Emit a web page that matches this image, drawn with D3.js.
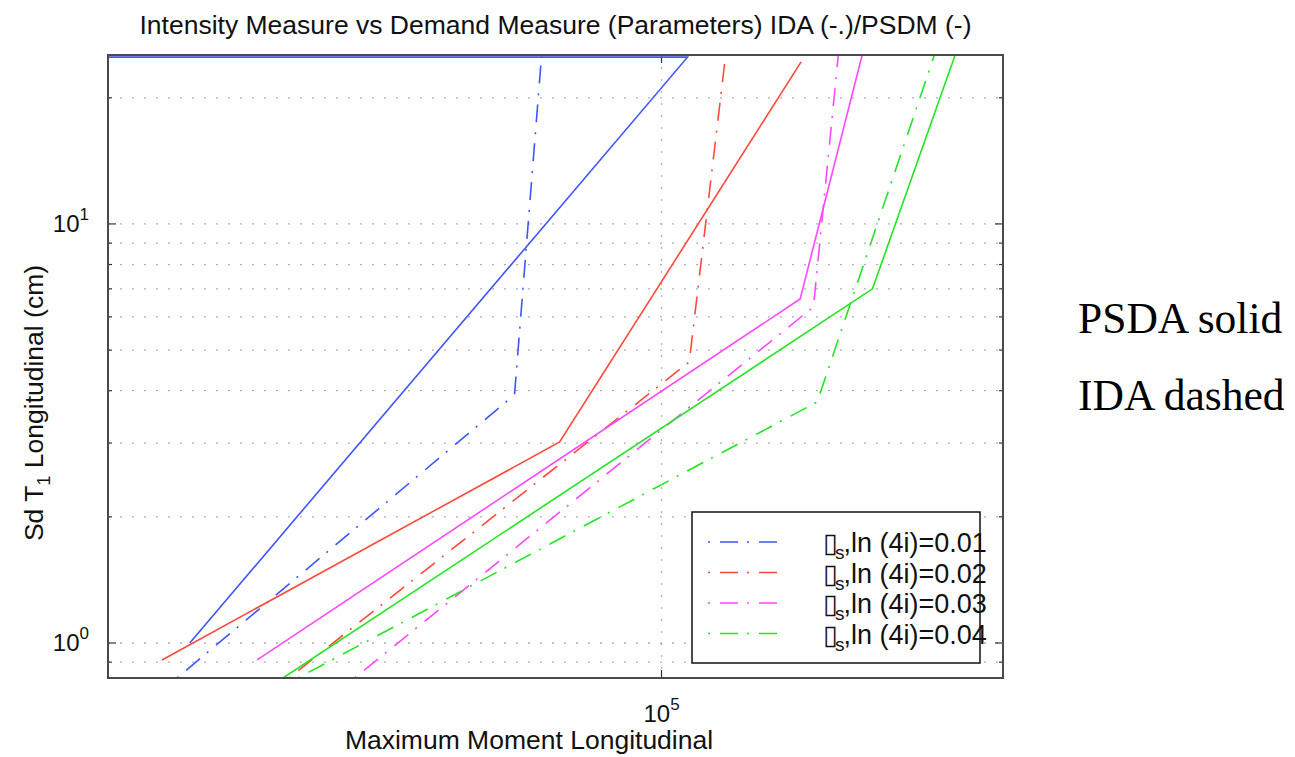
<!DOCTYPE html>
<html><head><meta charset="utf-8">
<script src="https://cdn.jsdelivr.net/npm/d3@7"></script>
<style>
body{margin:0;background:#fff;}
svg{display:block;font-family:"Liberation Sans",Arial,sans-serif;}
</style></head>
<body>
<svg id="chart" width="1295" height="757"></svg>
<script>
// ---- data ----
const seriesLabels = ["0.01", "0.02", "0.03", "0.04"];
const seriesColors = ["#3f55ff", "#ff4a3a", "#ff48ff", "#22e622"];
// PSDA (solid) : Maximum moment / Sd
const psdaMoment = [[45800, 104400, 38000], [43740, 84480, 126000], [51200, 125800, 139400], [53440, 141800, 162600]];
const psdaSd     = [[1.0, 25.0, 25.0],       [0.911, 3.017, 24.36],  [0.911, 6.62, 25.3],     [0.825, 7.0, 25.3]];
// IDA (dash-dot)
const idaMoment  = [[44840, 78400, 82000],   [53960, 104700, 111200], [60170, 128600, 134000], [54770, 129400, 157100]];
const idaSd      = [[0.825, 3.91, 25.3],     [0.825, 4.685, 25.3],    [0.825, 6.34, 25.3],     [0.825, 3.76, 25.3]];
const yGridValues = [0.9, 1, 2, 3, 4, 5, 6, 7, 8, 9, 10, 20];
const yMajorTicks = [1, 10];
const yTickExp = ["0", "1"];
const xMajorTicks = [1e5];
const xTickExp = ["5"];

// ---- layout ----
const svg = d3.select("#chart");
const L = 108, R = 1003, T = 55, B = 678;
const x = d3.scaleLog().domain([4e4, 1.76e5]).range([L, R]);
const y = d3.scaleLog().domain([0.825, 25.3]).range([B, T]);

svg.append("defs").append("clipPath").attr("id", "clip")
  .append("rect").attr("x", L).attr("y", T).attr("width", R - L).attr("height", B - T);

// grid
const grid = svg.append("g").attr("stroke", "#b0b0b0").attr("stroke-width", 1.3).attr("stroke-dasharray", "2,10");
grid.selectAll("line.gy").data(yGridValues).join("line")
  .attr("x1", L).attr("x2", R).attr("y1", d => y(d)).attr("y2", d => y(d));
grid.selectAll("line.gx").data(xMajorTicks).join("line")
  .attr("x1", d => x(d)).attr("x2", d => x(d)).attr("y1", T).attr("y2", B);

// ticks
const ticks = svg.append("g").attr("stroke", "#333").attr("stroke-width", 1.2);
yGridValues.forEach(v => {
  const len = yMajorTicks.includes(v) ? 8 : 4;
  ticks.append("line").attr("x1", L).attr("x2", L + len).attr("y1", y(v)).attr("y2", y(v));
  ticks.append("line").attr("x1", R).attr("x2", R - len).attr("y1", y(v)).attr("y2", y(v));
});
xMajorTicks.forEach(v => {
  ticks.append("line").attr("x1", x(v)).attr("x2", x(v)).attr("y1", B).attr("y2", B - 8);
  ticks.append("line").attr("x1", x(v)).attr("x2", x(v)).attr("y1", T).attr("y2", T + 8);
});

// lines
const line = d3.line().x(d => x(d[0])).y(d => y(d[1]));
const plot = svg.append("g").attr("clip-path", "url(#clip)").attr("fill", "none");
seriesLabels.forEach((s, i) => {
  const pts = psdaMoment[i].map((m, j) => [m, psdaSd[i][j]]);
  plot.append("path").attr("d", line(pts)).attr("stroke", seriesColors[i]).attr("stroke-width", 1.6);
  const ipts = idaMoment[i].map((m, j) => [m, idaSd[i][j]]);
  plot.append("path").attr("d", line(ipts)).attr("stroke", seriesColors[i]).attr("stroke-width", 1.6)
    .attr("stroke-dasharray", "2,10,18,9");
});

// frame
svg.append("rect").attr("x", L).attr("y", T).attr("width", R - L).attr("height", B - T)
  .attr("fill", "none").attr("stroke", "#4a4a4a").attr("stroke-width", 2);

// tick labels
yMajorTicks.forEach((v, i) => {
  const t = svg.append("text").attr("x", 89).attr("y", y(v) + 8).attr("text-anchor", "end")
    .attr("font-size", 24).attr("fill", "#111");
  t.append("tspan").text("10");
  t.append("tspan").attr("dy", -12).attr("font-size", 17).text(yTickExp[i]);
});
xMajorTicks.forEach((v, i) => {
  const t = svg.append("text").attr("x", x(v) - 18).attr("y", 722)
    .attr("font-size", 24).attr("fill", "#111");
  t.append("tspan").text("10");
  t.append("tspan").attr("dy", -12).attr("font-size", 17).text(xTickExp[i]);
});

// title & axis labels
svg.append("text").attr("x", (L + R) / 2).attr("y", 34).attr("text-anchor", "middle")
  .attr("font-size", 26.5).attr("fill", "#111")
  .text("Intensity Measure vs Demand Measure (Parameters) IDA (-.)/PSDM (-)");
svg.append("text").attr("x", 529).attr("y", 749).attr("text-anchor", "middle")
  .attr("font-size", 26.5).attr("fill", "#111").text("Maximum Moment Longitudinal");
const yl = svg.append("text").attr("transform", "translate(43,403) rotate(-90)")
  .attr("text-anchor", "middle").attr("font-size", 26.5).attr("fill", "#111");
yl.append("tspan").text("Sd T");
yl.append("tspan").attr("dy", 7).attr("font-size", 18).text("1");
yl.append("tspan").attr("dy", -7).text(" Longitudinal (cm)");

// legend
const lg = svg.append("g");
lg.append("rect").attr("x", 692).attr("y", 512).attr("width", 288).attr("height", 151)
  .attr("fill", "#fff").attr("stroke", "#111").attr("stroke-width", 1.5);
seriesLabels.forEach((s, i) => {
  const yy = 542 + i * 30.5;
  lg.append("line").attr("x1", 708).attr("x2", 778).attr("y1", yy).attr("y2", yy)
    .attr("stroke", seriesColors[i]).attr("stroke-width", 1.6).attr("stroke-dasharray", "2,10,18,9");
  const t = lg.append("text").attr("x", 823).attr("y", yy + 10).attr("font-size", 27).attr("fill", "#111");
  t.append("tspan").attr("font-family", "DejaVu Sans").attr("font-weight", 200).text("\u25AF");
  t.append("tspan").attr("dy", 7).attr("dx", -3).attr("font-size", 19).text("s");
  t.append("tspan").attr("dy", -7).attr("dx", -1).text(",ln (4i)=" + s);
});

// annotations
svg.append("text").attr("x", 1078).attr("y", 333).attr("font-family", "Liberation Serif, Times New Roman, serif")
  .attr("font-size", 43.5).attr("fill", "#000").text("PSDA solid");
svg.append("text").attr("x", 1078).attr("y", 410).attr("font-family", "Liberation Serif, Times New Roman, serif")
  .attr("font-size", 43.5).attr("fill", "#000").text("IDA dashed");
</script>
</body></html>
